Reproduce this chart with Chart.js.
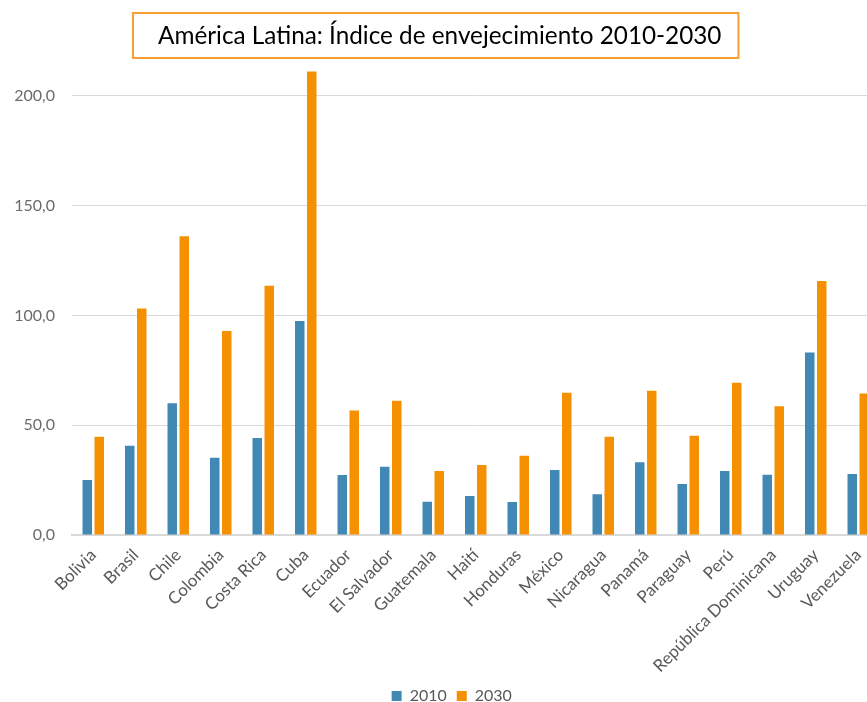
<!DOCTYPE html>
<html>
<head>
<meta charset="utf-8">
<script src="https://cdn.jsdelivr.net/npm/chart.js@4.4.1/dist/chart.umd.min.js"></script>
<style>
  html, body { margin: 0; padding: 0; background: #fff; overflow: hidden; }
  #wrap { position: absolute; left: 0; top: 0; width: 904px; height: 702px; overflow: hidden; }
</style>
</head>
<body>
<div id="wrap"><canvas id="envejecimiento" width="904" height="720"></canvas></div>
<script>
const paises = ["Bolivia", "Brasil", "Chile", "Colombia", "Costa Rica", "Cuba", "Ecuador", "El Salvador",
  "Guatemala", "Haití", "Honduras", "México", "Nicaragua", "Panamá", "Paraguay", "Perú",
  "República Dominicana", "Uruguay", "Venezuela"]
const valores2010 = [25.0, 40.6, 60.0, 35.2, 44.2, 97.5, 27.3, 31.1, 15.1, 17.8, 15.0, 29.6, 18.6, 33.1, 23.2, 29.1, 27.4, 83.1, 27.8]
const valores2030 = [44.7, 103.2, 136.1, 92.9, 113.5, 211.1, 56.7, 61.2, 29.1, 31.9, 36.1, 64.8, 44.7, 65.7, 45.2, 69.4, 58.7, 115.7, 64.5]
const yTicks = [0, 50, 100, 150, 200]

const color2010 = "#4189b4"
const color2030 = "#f59100"
const gridColor = "#d9d9d9"
const textColor = "#595959"
const titulo = "América Latina: Índice de envejecimiento 2010-2030"

// title with the orange frame around it
const titleBox = {
    id: 'titleBox',
    afterDraw(chart) {
        const ctx = chart.ctx
        ctx.save()
        ctx.font = '24.3px Lato'
        ctx.fillStyle = '#000'
        ctx.textBaseline = 'middle'
        const x0 = 158
        const w = ctx.measureText(titulo).width
        ctx.fillText(titulo, x0, 36)
        ctx.strokeStyle = '#f7a031'
        ctx.lineWidth = 2
        ctx.strokeRect(x0 - 25, 13, w + 42, 45)
        ctx.restore()
    }
}

// nudge the legend a bit to the right, like in the original
const legendShift = {
    id: 'legendShift',
    afterLayout(chart) {
        chart.legend.left += 12
        chart.legend.right += 12
    }
}

const chart = new Chart(document.getElementById("envejecimiento"), {
    type: 'bar',
    data: {
        labels: paises,
        datasets: [{
            label: '2010',
            data: valores2010,
            backgroundColor: color2010,
            categoryPercentage: 0.565,
            barPercentage: 0.79
        }, {
            label: '2030',
            data: valores2030,
            backgroundColor: color2030,
            categoryPercentage: 0.565,
            barPercentage: 0.79
        }]
    },
    options: {
        responsive: false,
        animation: false,
        layout: { padding: { top: 63, right: 24.5, left: 0, bottom: 6 } },
        plugins: {
            title: { display: false },
            tooltip: { enabled: false },
            legend: {
                position: 'bottom',
                labels: {
                    boxWidth: 10,
                    boxHeight: 10,
                    padding: 10,
                    color: textColor,
                    font: { family: 'Lato', size: 16 }
                }
            }
        },
        scales: {
            x: {
                grid: { display: false },
                border: { color: gridColor, width: 2 },
                ticks: {
                    autoSkip: false,
                    maxRotation: 45,
                    minRotation: 45,
                    padding: 2,
                    color: textColor,
                    font: { family: 'Lato', size: 17 }
                },
                afterFit(scale) { scale.height = 143 }
            },
            y: {
                min: 0,
                max: 215,
                border: { display: false },
                grid: { color: gridColor, lineWidth: 1, drawTicks: false },
                afterBuildTicks(axis) {
                    axis.ticks = yTicks.map(v => ({ value: v }))
                },
                ticks: {
                    padding: 17,
                    color: '#6b6b6b',
                    font: { family: 'Lato', size: 16 },
                    callback: v => v.toFixed(1).replace('.', ',')
                },
                afterFit(scale) { scale.width = 72 }
            }
        }
    },
    plugins: [titleBox, legendShift]
})
</script>
</body>
</html>
